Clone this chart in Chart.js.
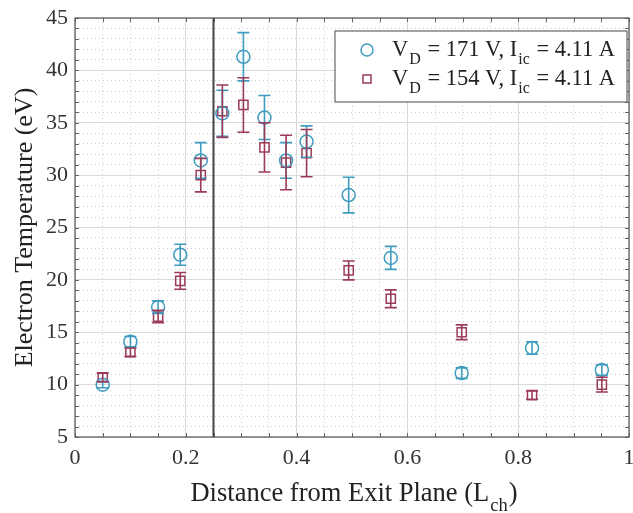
<!DOCTYPE html>
<html>
<head>
<meta charset="utf-8">
<script src="https://cdn.jsdelivr.net/npm/chart.js@4.4.0/dist/chart.umd.min.js"></script>
<style>
  html, body { margin: 0; padding: 0; background: #fff; }
  #wrap { width: 633px; height: 513px; }
</style>
</head>
<body>
<div id="wrap"><canvas id="te-chart" width="633" height="513"></canvas></div>
<script>
// distance from exit plane (L_ch), same stations for both conditions
const distance = [0.05, 0.10, 0.15, 0.19, 0.227, 0.266, 0.304, 0.342, 0.381, 0.418, 0.494, 0.570, 0.698, 0.825, 0.951];

// VD = 171 V
const te171 = [10.0, 14.1, 17.4, 22.4, 31.4, 35.9, 41.3, 35.5, 31.4, 33.2, 28.1, 22.1, 11.1, 13.5, 11.4];
const err171 = [0.3, 0.5, 0.6, 1.0, 1.7, 2.2, 2.3, 2.1, 1.7, 1.5, 1.7, 1.1, 0.5, 0.6, 0.5];

// VD = 154 V
const te154 = [10.7, 13.1, 16.5, 19.9, 30.0, 36.1, 36.7, 32.65, 31.2, 32.1, 20.9, 18.2, 15.0, 9.0, 10.0];
const err154 = [0.4, 0.4, 0.6, 0.8, 1.6, 2.5, 2.6, 2.35, 2.6, 2.25, 0.9, 0.85, 0.7, 0.4, 0.7];

// exit plane marker
const exitPlane = 0.25;

// labels as [text, subscript?] pieces
const label171 = [['V', false], ['D', true], [' = 171 V, I', false], ['ic', true], [' = 4.11 A', false]];
const label154 = [['V', false], ['D', true], [' = 154 V, I', false], ['ic', true], [' = 4.11 A', false]];
const xTitle = [['Distance from Exit Plane (L', false], ['ch', true], [')', false]];
const yTitle = 'Electron Temperature (eV)';

const blue = '#3f9cbf';
const red = '#9b3b57';
const serif = '"Liberation Serif", "DejaVu Serif", serif';

function toPoints(ys) {
    return distance.map((d, i) => ({ x: d, y: ys[i] }));
}

// draws text with subscripts, returns width
function drawParts(ctx, parts, x, y, size, subSize, measureOnly) {
    let w = 0;
    parts.forEach(p => {
        ctx.font = (p[1] ? subSize : size) + 'px ' + serif;
        if (p[1]) w += 1;
        if (!measureOnly) ctx.fillText(p[0], x + w, p[1] ? y + size * 0.36 : y);
        w += ctx.measureText(p[0]).width;
        if (p[1]) w += 1;
    });
    return w;
}

const errorBars = {
    id: 'errorBars',
    afterDatasetsDraw(chart) {
        const ctx = chart.ctx;
        const yScale = chart.scales.y;
        [err171, err154].forEach((errs, di) => {
            const meta = chart.getDatasetMeta(di);
            const col = chart.data.datasets[di].borderColor;
            ctx.save();
            ctx.strokeStyle = col;
            ctx.lineWidth = 1.6;
            meta.data.forEach((pt, i) => {
                const v = chart.data.datasets[di].data[i].y;
                const top = yScale.getPixelForValue(v + errs[i]);
                const bot = yScale.getPixelForValue(v - errs[i]);
                const cap = 6;
                ctx.beginPath();
                ctx.moveTo(pt.x, top); ctx.lineTo(pt.x, bot);
                ctx.moveTo(pt.x - cap, top); ctx.lineTo(pt.x + cap, top);
                ctx.moveTo(pt.x - cap, bot); ctx.lineTo(pt.x + cap, bot);
                ctx.stroke();
            });
            ctx.restore();
        });
    }
};

const decorations = {
    id: 'decorations',
    beforeDatasetsDraw(chart) {
        const ctx = chart.ctx;
        const a = chart.chartArea;
        const xs = chart.scales.x, ys = chart.scales.y;
        ctx.save();
        // small inward ticks on all four sides
        ctx.strokeStyle = '#666';
        ctx.lineWidth = 1;
        ctx.beginPath();
        xs.ticks.forEach(t => {
            const px = Math.round(xs.getPixelForValue(t.value)) + 0.5;
            ctx.moveTo(px, a.bottom); ctx.lineTo(px, a.bottom - 4);
            ctx.moveTo(px, a.top); ctx.lineTo(px, a.top + 4);
        });
        ys.ticks.forEach(t => {
            const py = Math.round(ys.getPixelForValue(t.value)) + 0.5;
            ctx.moveTo(a.left, py); ctx.lineTo(a.left + 4, py);
            ctx.moveTo(a.right, py); ctx.lineTo(a.right - 4, py);
        });
        ctx.stroke();

        const px = xs.getPixelForValue(exitPlane);
        ctx.strokeStyle = '#444';
        ctx.lineWidth = 2;
        ctx.beginPath();
        ctx.moveTo(px, a.top); ctx.lineTo(px, a.bottom);
        ctx.stroke();
        ctx.restore();
    },
    afterDraw(chart) {
        const ctx = chart.ctx;
        const a = chart.chartArea;
        ctx.save();
        // frame
        ctx.strokeStyle = '#555';
        ctx.lineWidth = 1.2;
        ctx.strokeRect(a.left, a.top, a.right - a.left, a.bottom - a.top);

        // legend
        const bx = a.right - 294, by = a.top + 13, bw = 292, bh = 71;
        ctx.fillStyle = '#fff';
        ctx.fillRect(bx, by, bw, bh);
        ctx.strokeStyle = '#666';
        ctx.lineWidth = 1.2;
        ctx.strokeRect(bx, by, bw, bh);

        ctx.lineWidth = 1.5;
        ctx.strokeStyle = blue;
        ctx.beginPath();
        ctx.arc(bx + 32, by + 19, 6, 0, Math.PI * 2);
        ctx.stroke();
        ctx.strokeStyle = red;
        ctx.strokeRect(bx + 28, by + 44, 8, 8);

        ctx.fillStyle = '#222';
        ctx.textBaseline = 'alphabetic';
        drawParts(ctx, label171, bx + 57, by + 25, 22.5, 16);
        drawParts(ctx, label154, bx + 57, by + 54, 22.5, 16);

        // x title
        const tw = drawParts(ctx, xTitle, 0, 0, 26.5, 18.5, true);
        drawParts(ctx, xTitle, (a.left + a.right) / 2 - tw / 2 + 2, 501, 26.5, 18.5);

        // y title
        ctx.translate(32, (a.top + a.bottom) / 2);
        ctx.rotate(-Math.PI / 2);
        ctx.font = '26px ' + serif;
        ctx.textAlign = 'center';
        ctx.fillText(yTitle, 0, 0);
        ctx.restore();
    }
};

const isMajor = (v, step) => Math.abs(v / step - Math.round(v / step)) < 1e-6;

new Chart(document.getElementById('te-chart'), {
    type: 'scatter',
    data: {
        datasets: [{
            label: 'VD = 171 V, Iic = 4.11 A',
            data: toPoints(te171),
            borderColor: blue,
            backgroundColor: 'rgba(0,0,0,0)',
            pointStyle: 'circle',
            pointRadius: 6.5,
            pointBorderWidth: 1.5,
            pointHoverRadius: 6.5
        }, {
            label: 'VD = 154 V, Iic = 4.11 A',
            data: toPoints(te154),
            borderColor: red,
            backgroundColor: 'rgba(0,0,0,0)',
            pointStyle: 'rect',
            pointRadius: 6.5,
            pointBorderWidth: 1.5,
            pointHoverRadius: 6.5
        }]
    },
    options: {
        responsive: false,
        animation: false,
        events: [],
        layout: { autoPadding: false, padding: { top: 18, right: 4, left: 0, bottom: 0 } },
        plugins: {
            legend: { display: false },
            tooltip: { enabled: false }
        },
        scales: {
            x: {
                type: 'linear',
                min: 0, max: 1,
                afterFit: s => { s.height = 76; s.paddingLeft = 0; s.paddingRight = 0; },
                ticks: {
                    stepSize: 0.05,
                    autoSkip: false,
                    maxRotation: 0, minRotation: 0,
                    padding: 8,
                    color: '#333',
                    font: { family: serif, size: 22 },
                    callback: v => isMajor(v, 0.2) ? String(Math.round(v * 10) / 10) : ''
                },
                grid: {
                    drawTicks: false,
                    color: c => isMajor(c.tick.value, 0.2) ? '#dadada' : '#cdcdcd',
                    lineWidth: 1
                },
                border: {
                    display: false,
                    dash: c => isMajor(c.tick.value, 0.2) ? [] : [1, 3]
                }
            },
            y: {
                type: 'linear',
                min: 5, max: 45,
                afterFit: s => { s.width = 75; s.paddingTop = 0; s.paddingBottom = 0; },
                ticks: {
                    stepSize: 1,
                    autoSkip: false,
                    padding: 7,
                    color: '#333',
                    font: { family: serif, size: 22 },
                    callback: v => isMajor(v, 5) ? String(v) : ''
                },
                grid: {
                    drawTicks: false,
                    color: c => isMajor(c.tick.value, 5) ? '#dadada' : '#cdcdcd',
                    lineWidth: 1
                },
                border: {
                    display: false,
                    dash: c => isMajor(c.tick.value, 5) ? [] : [1, 3]
                }
            }
        }
    },
    plugins: [decorations, errorBars]
});
</script>
</body>
</html>
